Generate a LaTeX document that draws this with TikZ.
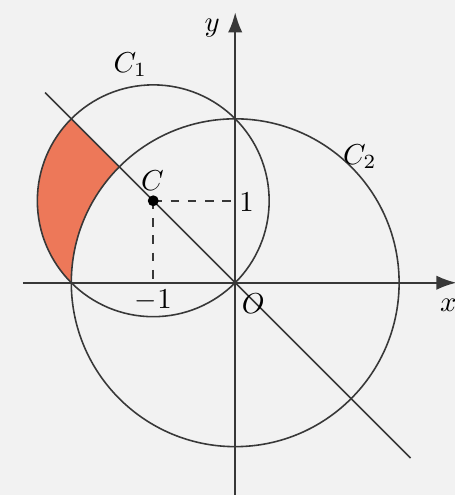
\documentclass[tikz,border=0pt]{standalone}
\usepackage{amsmath}
\usepackage{tikz}
\usetikzlibrary{arrows, arrows.meta, positioning}
\definecolor{linegray}{rgb}{0.22, 0.22, 0.22}
\definecolor{regionred}{rgb}{0.93, 0.47, 0.35}
\definecolor{paper}{rgb}{0.95, 0.95, 0.95}

\begin{document}
\begin{tikzpicture}[scale=1, line width=0.55pt, every node/.style={font=\normalsize}]
		\fill [paper] (-2.87,-2.59) rectangle (2.68,3.45);
		\useasboundingbox (-2.87,-2.59) rectangle (2.68,3.45);
		
		\coordinate (O) at (0,0);
		\coordinate (C) at (-1,1);
		
		% shaded part of C_1 outside C_2
		\fill [regionred] (-2,2) arc[start angle=135, end angle=225, radius=1.4142]
			arc[start angle=180, end angle=135, radius=2] -- cycle;
		
		\draw [linegray, line width=0.7pt, -{Latex[length=7pt, width=5pt]}] (-2.59,0)--(2.7,0);
		\draw [linegray, line width=0.7pt, -{Latex[length=7pt, width=5pt]}] (0,-2.62)--(0,3.3);
		
		\draw [linegray] (C) circle (1.4142);
		\draw [linegray] (O) circle (2);
		\draw [linegray] (-2.32,2.32)--(2.14,-2.14);
		
		\draw [linegray, dashed] (C)--(C -| O);
		\draw [linegray, dashed] (C)--(C |- O);
		\draw [fill=black] (C) circle (1.6pt);
		
		\node (xlab) at (2.6,-0.27) {$x$};
		\node (ylab) at (-0.28,3.11) {$y$};
		\node (olab) at (0.22,-0.26) {$O$};
		\node (clab) at (-1.01,1.24) {$C$};
		\node (onelab) at (0.14,0.98) {$1$};
		\node (monelab) at (-1.0,-0.22) {$-1$};
		\node (c1lab) at (-1.28,2.66) {$C_1$};
		\node (c2lab) at (1.52,1.54) {$C_2$};
	\end{tikzpicture}
\end{document}
